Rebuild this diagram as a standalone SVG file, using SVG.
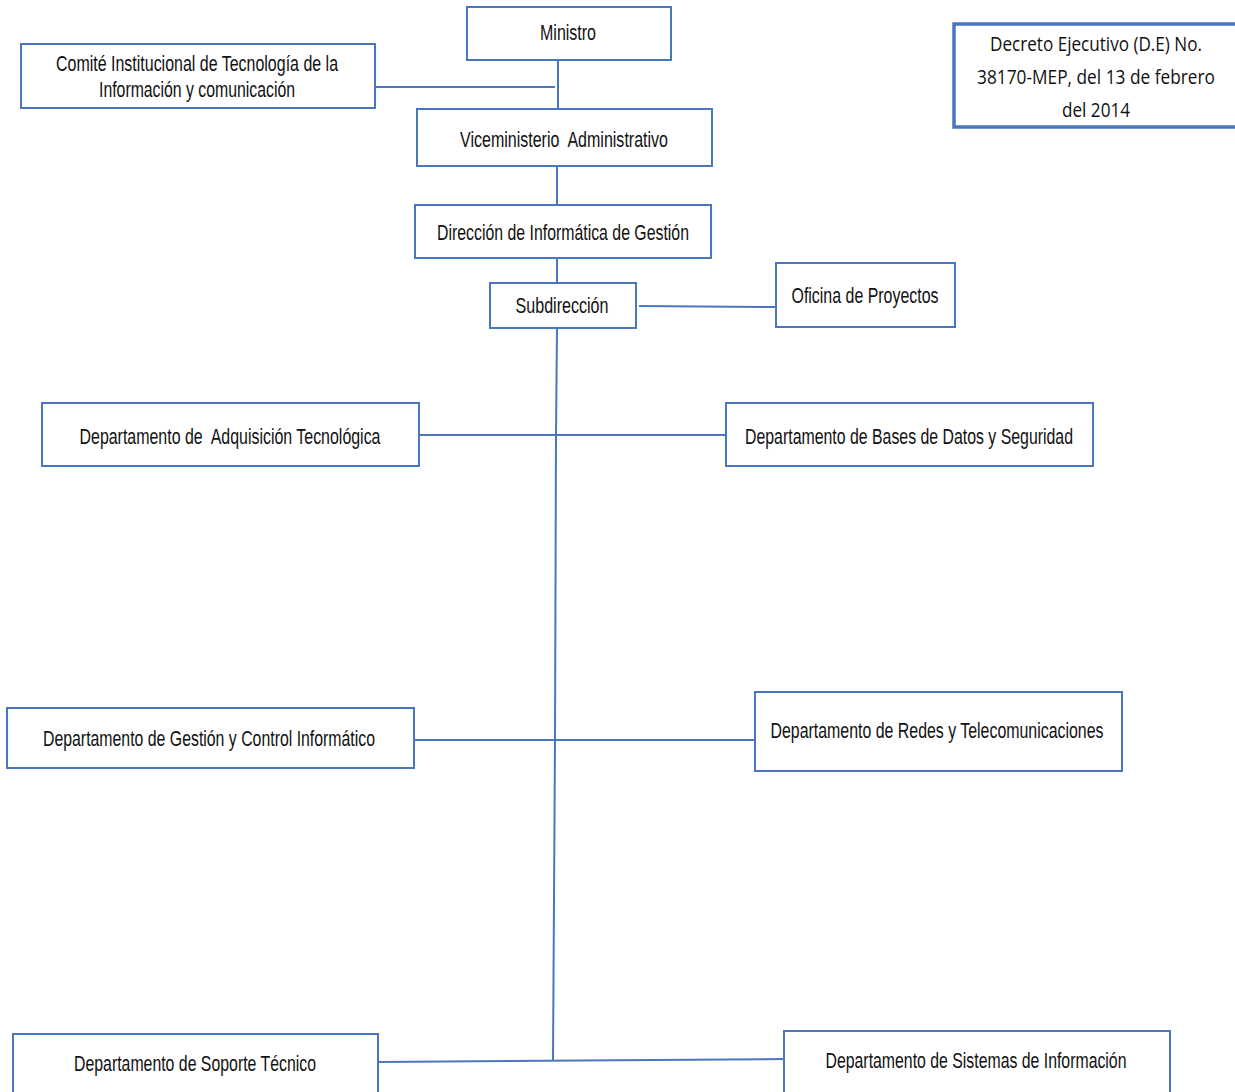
<svg xmlns="http://www.w3.org/2000/svg" width="1235" height="1092" viewBox="0 0 1235 1092">
<style>
.box{fill:#fff;stroke:#4a76c0;stroke-width:2}
.thick{fill:#fff;stroke:#4a76c0;stroke-width:3.5}
.t{font-family:"Liberation Sans",Arial,sans-serif;font-size:22px;fill:#111;text-anchor:middle;dominant-baseline:central;white-space:pre}
.c{font-family:"Open Sans","Liberation Sans",sans-serif;font-size:20px;fill:#111;text-anchor:middle;dominant-baseline:central}
.ln{stroke:#4a76c0;stroke-width:2;fill:none}
</style>
<rect width="1235" height="1092" fill="#fff"/>
<g id="connectors">
<line class="ln" x1="558" y1="60" x2="558" y2="109"/>
<line class="ln" x1="375" y1="87" x2="555" y2="87"/>
<line class="ln" x1="557" y1="166" x2="557" y2="205"/>
<line class="ln" x1="557" y1="258" x2="557" y2="283"/>
<line class="ln" x1="639" y1="306" x2="776" y2="307"/>
<polyline class="ln" points="557,328 556,435 555,740 553,1060"/>
<line class="ln" x1="419" y1="435" x2="726" y2="435"/>
<line class="ln" x1="414" y1="740" x2="755" y2="740"/>
<line class="ln" x1="378" y1="1062" x2="784" y2="1059"/>
</g>
<g id="ministro">
<rect class="box" x="467" y="7" width="204" height="53"/>
<text class="t" transform="translate(568,32) scale(0.75,1)" textLength="74.7" lengthAdjust="spacingAndGlyphs">Ministro</text>
</g>
<g id="comite">
<rect class="box" x="21" y="44" width="354" height="64"/>
<text class="t" transform="translate(197,63) scale(0.75,1)" textLength="376" lengthAdjust="spacingAndGlyphs">Comité Institucional de Tecnología de la</text>
<text class="t" transform="translate(197,89) scale(0.75,1)" textLength="261.3" lengthAdjust="spacingAndGlyphs">Información y comunicación</text>
</g>
<g id="viceministerio">
<rect class="box" x="417" y="109" width="295" height="57"/>
<text class="t" transform="translate(564,139) scale(0.75,1)" textLength="277.3" lengthAdjust="spacingAndGlyphs" xml:space="preserve">Viceministerio  Administrativo</text>
</g>
<g id="direccion">
<rect class="box" x="415" y="205" width="296" height="53"/>
<text class="t" transform="translate(563,232) scale(0.75,1)" textLength="336" lengthAdjust="spacingAndGlyphs">Dirección de Informática de Gestión</text>
</g>
<g id="subdireccion">
<rect class="box" x="490" y="283" width="146" height="45"/>
<text class="t" transform="translate(562,305) scale(0.75,1)" textLength="124" lengthAdjust="spacingAndGlyphs">Subdirección</text>
</g>
<g id="oficina">
<rect class="box" x="776" y="263" width="179" height="64"/>
<text class="t" transform="translate(865,295) scale(0.75,1)" textLength="196" lengthAdjust="spacingAndGlyphs">Oficina de Proyectos</text>
</g>
<g id="decreto">
<path class="thick" d="M1235,24 H954 V127 H1235"/>
<text class="c" transform="translate(1096,43) scale(0.85,1)" textLength="249.4" lengthAdjust="spacingAndGlyphs">Decreto Ejecutivo (D.E) No.</text>
<text class="c" transform="translate(1096,76) scale(0.85,1)" textLength="280" lengthAdjust="spacingAndGlyphs">38170-MEP, del 13 de febrero</text>
<text class="c" transform="translate(1096,109) scale(0.85,1)" textLength="80" lengthAdjust="spacingAndGlyphs">del 2014</text>
</g>
<g id="adquisicion">
<rect class="box" x="42" y="403" width="377" height="63"/>
<text class="t" transform="translate(230,436) scale(0.75,1)" textLength="401.3" lengthAdjust="spacingAndGlyphs" xml:space="preserve">Departamento de  Adquisición Tecnológica</text>
</g>
<g id="bases">
<rect class="box" x="726" y="403" width="367" height="63"/>
<text class="t" transform="translate(909,436) scale(0.75,1)" textLength="437.3" lengthAdjust="spacingAndGlyphs">Departamento de Bases de Datos y Seguridad</text>
</g>
<g id="gestion">
<rect class="box" x="7" y="708" width="407" height="60"/>
<text class="t" transform="translate(209,738) scale(0.75,1)" textLength="442.7" lengthAdjust="spacingAndGlyphs">Departamento de Gestión y Control Informático</text>
</g>
<g id="redes">
<rect class="box" x="755" y="692" width="367" height="79"/>
<text class="t" transform="translate(937,730) scale(0.75,1)" textLength="444" lengthAdjust="spacingAndGlyphs">Departamento de Redes y Telecomunicaciones</text>
</g>
<g id="soporte">
<path class="box" d="M13,1092 V1034 H378 V1092"/>
<text class="t" transform="translate(195,1063) scale(0.75,1)" textLength="322.7" lengthAdjust="spacingAndGlyphs">Departamento de Soporte Técnico</text>
</g>
<g id="sistemas">
<path class="box" d="M784,1092 V1031 H1170 V1092"/>
<text class="t" transform="translate(976,1060) scale(0.75,1)" textLength="401.3" lengthAdjust="spacingAndGlyphs">Departamento de Sistemas de Información</text>
</g>
</svg>
